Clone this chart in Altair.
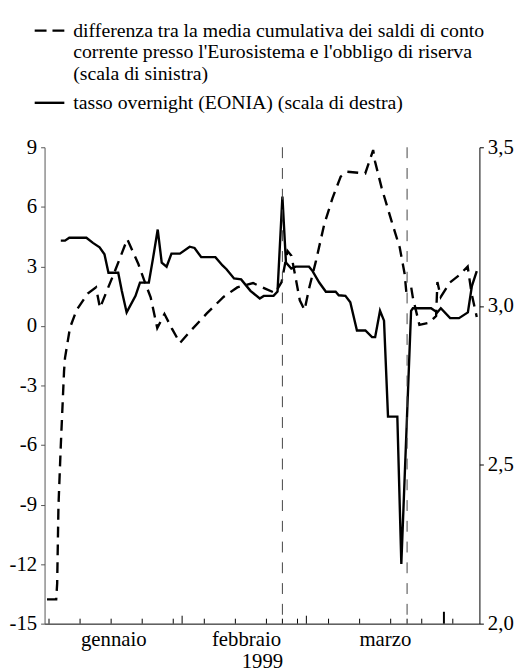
import altair as alt
import pandas as pd

FONT = "Liberation Serif, Times New Roman, DejaVu Serif, serif"

# ---- data (x = days since 1 Jan 1999) ----
eonia_days = [3.66, 4.6, 5.57, 9.43, 10.9, 12.4, 13.5, 14.4, 16.6, 17.4,
              18.5, 20.5, 21.5, 23.5, 24.4, 25.5, 26.4, 27.5, 28.6, 30.5,
              32.7, 33.8, 35.3, 38.5, 40.1, 41.0, 42.7, 44.3, 46.4, 48.5,
              49.4, 51.6, 52.5, 53.6, 54.4, 55.6, 56.6, 59.6, 60.4, 61.9,
              63.4, 65.6, 66.3, 67.8, 68.9, 70.4, 72.3, 73.8, 74.5, 75.6,
              76.5, 77.4, 79.5, 80.4, 82.6, 83.0, 87.1, 88.5, 89.3, 91.4,
              93.4, 95.4, 96.3, 97.4]
eonia_vals = [3.206, 3.206, 3.215, 3.215, 3.199, 3.185, 3.163, 3.105, 3.105, 3.048,
              2.980, 3.032, 3.074, 3.074, 3.147, 3.241, 3.137, 3.124, 3.165, 3.165,
              3.187, 3.183, 3.154, 3.154, 3.128, 3.116, 3.087, 3.084, 3.048, 3.024,
              3.032, 3.032, 3.046, 3.345, 3.137, 3.118, 3.124, 3.124, 3.110, 3.074,
              3.045, 3.045, 3.034, 3.032, 3.012, 2.923, 2.923, 2.902, 2.902, 2.985,
              2.954, 2.652, 2.652, 2.188, 2.985, 2.993, 2.993, 2.980, 2.993, 2.962,
              2.962, 2.980, 3.063, 3.110]

gap_days = [0.55, 2.62, 2.84, 3.13, 3.66, 4.39, 4.61, 5.72, 7.21, 9.72,
            11.6, 12.49, 13.86, 16.08, 18.63, 21.14, 22.58, 23.91, 25.4, 27.02,
            28.64, 30.5, 33.12, 36.56, 40.33, 43.43, 46.98, 49.71, 51.93, 53.42,
            54.75, 55.63, 56.52, 57.52, 58.59, 59.69, 61.18, 63.02, 64.89, 66.73,
            68.21, 72.27, 74.05, 74.49, 75.98, 78.2, 80.04, 81.15, 81.52, 82.63,
            82.99, 84.47, 86.69, 88.24, 88.53, 89.29, 91.35, 93.35, 95.35, 96.23,
            97.05, 97.4]
gap_vals = [-13.78, -13.78, -12.98, -9.08, -6.01, -2.28, -1.61, -0.10, 0.80, 1.63,
            1.94, 0.90, 1.67, 2.89, 4.37, 3.12, 2.22, 1.44, -0.11, 0.60,
            -0.11, -0.86, -0.20, 0.63, 1.46, 1.94, 2.16, 1.88, 1.66, 2.21,
            3.78, 3.54, 2.49, 1.29, 0.80, 1.96, 3.29, 5.11, 6.44, 7.52,
            7.77, 7.68, 8.86, 8.27, 6.94, 5.28, 3.95, 2.62, 1.71, 1.94,
            1.44, 0.05, 0.16, 0.50, 2.21, 1.46, 2.19, 2.54, 2.99, 1.64,
            0.80, 0.45]

period_ends = [53.6, 81.7]              # end of reserve maintenance periods
week_ticks = [1, 8, 15, 22, 29, 36, 43, 50, 57, 64, 71, 78, 85, 92]
month_ticks = [31, 59]
april_tick = [90]
month_label_pos = [15.5, 45.4, 76.7]
month_names = ["gennaio", "febbraio", "marzo"]
year_label = "1999"
left_ticks = [-15, -12, -9, -6, -3, 0, 3, 6, 9]
right_ticks = [2.0, 2.5, 3.0, 3.5]
legend_labels = [
    "differenza tra la media cumulativa dei saldi di conto\ncorrente presso l'Eurosistema e l'obbligo di riserva\n(scala di sinistra)",
    "tasso overnight (EONIA) (scala di destra)",
]

df_eonia = pd.DataFrame({"d": eonia_days, "v": eonia_vals})
df_gap = pd.DataFrame({"d": gap_days, "v": gap_vals})
df_periods = pd.DataFrame({"d": period_ends})
df_week = pd.DataFrame({"d": week_ticks + period_ends})
df_month = pd.DataFrame({"d": month_ticks})
df_april = pd.DataFrame({"d": april_tick})
df_one = pd.DataFrame({"d": [0]})

label_expr = " : ".join(
    f"datum.value < {p + 1} ? '{n}'" for p, n in zip(month_label_pos[:-1], month_names[:-1])
) + f" : '{month_names[-1]}'"

x_enc = alt.X(
    "d:Q",
    scale=alt.Scale(domain=[0, 98], nice=False, zero=False),
    axis=alt.Axis(values=month_label_pos, labelExpr=label_expr, ticks=False,
                  grid=False, title=year_label, labelPadding=5, titlePadding=1,
                  labelFlush=False, labelOverlap=False),
)

dashed = alt.Chart(df_gap).mark_line(color="black", strokeWidth=2.4, strokeDash=[11, 7]).encode(
    x=x_enc,
    y=alt.Y("v:Q", scale=alt.Scale(domain=[-15, 9], nice=False, zero=False),
            axis=alt.Axis(orient="left", values=left_ticks, labelExpr="'' + datum.value",
                          title=None, grid=False, domainColor="#555", tickColor="#555")),
)

solid = alt.Chart(df_eonia).mark_line(color="black", strokeWidth=2.4).encode(
    x=x_enc,
    y=alt.Y("v:Q", scale=alt.Scale(domain=[2.0, 3.5], nice=False, zero=False),
            axis=alt.Axis(orient="right", values=right_ticks,
                          labelExpr="replace(format(datum.value, '.1f'), '.', ',')",
                          title=None, grid=False, labelPadding=4)),
)

vrules = alt.Chart(df_periods).mark_rule(color="#444", strokeWidth=1, strokeDash=[11, 10]).encode(x=x_enc)

wticks = alt.Chart(df_week).mark_rule(color="black", strokeWidth=1).encode(
    x=x_enc, y=alt.value(482), y2=alt.value(477))
mticks = alt.Chart(df_month).mark_rule(color="black", strokeWidth=1).encode(
    x=x_enc, y=alt.value(482), y2=alt.value(474))
aticks = alt.Chart(df_april).mark_rule(color="black", strokeWidth=2).encode(
    x=x_enc, y=alt.value(482), y2=alt.value(470))

leg_text1 = alt.Chart(df_one).mark_text(
    text=legend_labels[0], lineBreak="\n", lineHeight=22, align="left",
    baseline="alphabetic", font=FONT, fontSize=20, color="black",
).encode(x=alt.value(29), y=alt.value(-112))
leg_text2 = alt.Chart(df_one).mark_text(
    text=legend_labels[1], align="left", baseline="alphabetic",
    font=FONT, fontSize=20, color="black",
).encode(x=alt.value(29), y=alt.value(-39))
leg_line1 = alt.Chart(df_one).mark_rule(color="black", strokeWidth=2.4, strokeDash=[12, 6]).encode(
    x=alt.value(-10), x2=alt.value(20), y=alt.value(-118))
leg_line2 = alt.Chart(df_one).mark_rule(color="black", strokeWidth=2.4).encode(
    x=alt.value(-10), x2=alt.value(20), y=alt.value(-45))

chart = alt.layer(
    dashed, solid, vrules, wticks, mticks, aticks, leg_text1, leg_text2, leg_line1, leg_line2
).resolve_scale(y="independent").properties(
    width=440, height=482,
    padding={"left": 37, "top": 137, "right": 36, "bottom": 44},
    autosize=alt.AutoSizeParams(type="none"),
).configure_view(stroke=None).configure_axis(
    labelFont=FONT, labelFontSize=21, labelColor="black",
    titleFont=FONT, titleFontSize=21, titleFontWeight="normal", titleColor="black",
    domainColor="black", tickColor="black", tickSize=4, labelPadding=4, grid=False,
)

chart.save("out.html", embed_options={"renderer": "svg", "actions": False})
